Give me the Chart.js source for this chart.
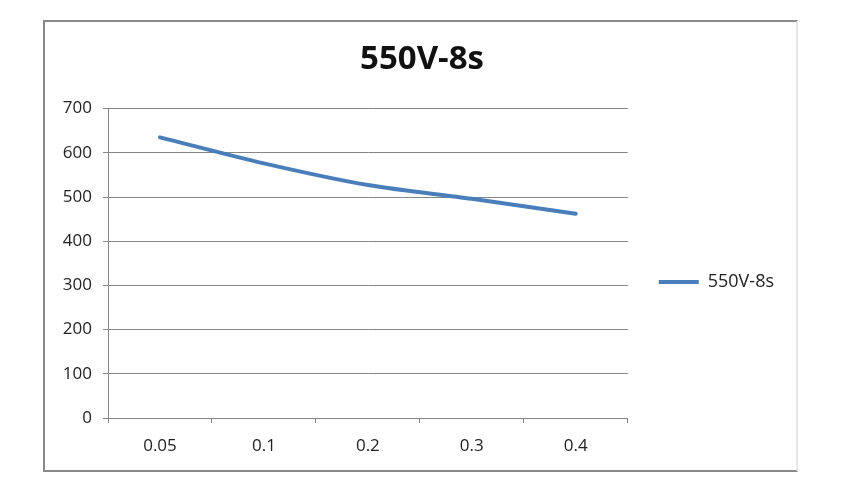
<!DOCTYPE html>
<html>
<head>
<meta charset="utf-8">
<script src="https://cdn.jsdelivr.net/npm/chart.js@4.4.0/dist/chart.umd.min.js"></script>
<style>
  body{margin:0;background:#fff;}
  #wrap{position:absolute;left:0;top:0;width:862px;height:478px;}
  #frame{position:absolute;left:43px;top:20px;width:755px;height:452px;box-sizing:border-box;
    border:2px solid #898989;border-right-color:#e6e6e6;pointer-events:none;}
</style>
</head>
<body>
<div id="wrap"><canvas id="myChart"></canvas></div>
<div id="frame"></div>
<script>
'use strict';
let categories=['0.05','0.1','0.2','0.3','0.4'];
let seriesName='550V-8s';
let seriesValues=[635,576,527,496,462];
let yTicks=[0,100,200,300,400,500,600,700];

let gridColor='#868686';
let textColor='#222222';
let fontName='"Open Sans", sans-serif';

// move the legend down a bit, excel puts it lower than the canvas middle
let legendShift={
  id:'legendShift',
  afterLayout:function(chart){
    chart.legend.top+=43;
    chart.legend.bottom+=43;
  }
};

let ctx=document.getElementById('myChart');
let myChart=new Chart(ctx,{
  type:'line',
  data:{
    labels:categories,
    datasets:[{
      label:seriesName,
      data:seriesValues,
      borderColor:'#4a7ebb',
      backgroundColor:'#4a7ebb',
      borderWidth:4,
      tension:0.3,
      pointRadius:0,
      borderCapStyle:'round',
      fill:false
    }]
  },
  options:{
    responsive:true,
    maintainAspectRatio:false,
    animation:false,
    layout:{padding:{left:60,right:78,top:0,bottom:0}},
    plugins:{
      title:{
        display:true,
        text:seriesName,
        color:'#111',
        font:{family:fontName,size:33,weight:'bold'},
        padding:{top:40,bottom:29}
      },
      legend:{
        position:'right',
        labels:{
          usePointStyle:true,
          pointStyle:'line',
          pointStyleWidth:40,
          boxWidth:40,
          padding:31,
          color:textColor,
          font:{family:fontName,size:18}
        }
      },
      tooltip:{enabled:false}
    },
    scales:{
      x:{
        offset:true,
        grid:{offset:true,drawOnChartArea:false,drawTicks:true,tickLength:5,color:gridColor},
        border:{color:gridColor},
        ticks:{color:textColor,font:{family:fontName,size:17},padding:13,maxRotation:0},
        afterFit:function(scale){scale.height=60;}
      },
      y:{
        min:yTicks[0],
        max:yTicks[yTicks.length-1],
        grid:{color:gridColor,tickLength:5},
        border:{color:gridColor},
        ticks:{stepSize:yTicks[1]-yTicks[0],color:textColor,font:{family:fontName,size:17},padding:11},
        afterFit:function(scale){scale.width=48;}
      }
    }
  },
  plugins:[legendShift]
});
</script>
</body>
</html>
